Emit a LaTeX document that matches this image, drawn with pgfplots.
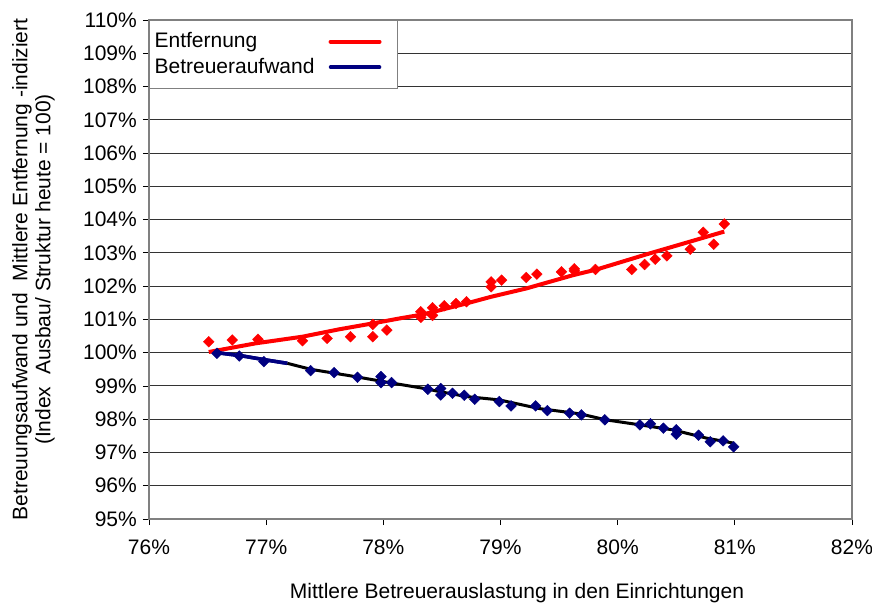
\documentclass[border=0pt]{standalone}
\usepackage{fontspec}
\setmainfont{Liberation Sans}
\usepackage{pgfplots}
\pgfplotsset{compat=1.18}
\definecolor{navyb}{RGB}{0,0,128}
\begin{document}
\fontsize{21}{25}\selectfont
\begin{tikzpicture}
\path[use as bounding box] (-149pt,-88pt) rectangle (723pt,519pt);
\begin{axis}[
  at={(0pt,0pt)}, anchor=south west,
  scale only axis, width=703pt, height=499pt,
  xmin=76, xmax=82, ymin=95, ymax=110,
  xtick={76,77,78,79,80,81,82},
  xticklabels={76\%,77\%,78\%,79\%,80\%,81\%,82\%},
  ytick={95,96,...,110},
  yticklabels={95\%,96\%,97\%,98\%,99\%,100\%,101\%,102\%,103\%,104\%,105\%,106\%,107\%,108\%,109\%,110\%},
  ymajorgrids, major grid style={black!80, line width=1pt},
  axis line style={gray, line width=1.2pt},
  tick align=outside, xtick pos=bottom, ytick pos=left,
  major tick length=6pt, tick style={black, line width=0.8pt},
  ticklabel style={font=\fontsize{21}{25}\selectfont},
  yticklabel style={xshift=1pt},
  xticklabel style={yshift=-8pt},
  /pgf/number format/assume math mode=true,
  legend plot pos=right,
  legend style={at={(0,1)}, anchor=north west, draw=gray, line width=1.2pt, fill=white,
    font=\fontsize{21}{25}\selectfont, inner xsep=3pt, inner ysep=10pt,
    legend cell align=left, row sep=3pt,
    /tikz/every odd column/.append style={column sep=12pt}},
  legend image code/.code={\draw[#1, line cap=round] (0pt,0pt) -- (49pt,0pt); \path (62pt,0pt);},
  clip=false,
]
% trend lines (legend entries)
\addplot[red, line width=4pt, no markers] coordinates {
(76.51,100.02) (76.91,100.28) (77.31,100.48) (77.62,100.70) (77.91,100.88)
(78.14,101.03) (78.34,101.15) (78.71,101.48) (78.92,101.68) (79.22,101.93)
(79.62,102.33) (79.82,102.50) (80.25,102.96) (80.62,103.34) (80.91,103.64)};
\addlegendentry{Entfernung}
\addplot[navyb, line width=3.5pt, no markers] coordinates {
(76.58,100.00) (76.80,99.90) (77.00,99.78) (77.18,99.68)};
\addlegendentry{Betreueraufwand}
% markers
\addplot[only marks, mark=square*, mark size=3.8pt, mark options={rotate=45, red, draw=red}, forget plot] coordinates {
(76.51,100.33) (76.71,100.38) (76.93,100.40) (77.31,100.36) (77.52,100.43)
(77.72,100.48) (77.91,100.85) (77.91,100.48) (78.03,100.68) (78.32,101.23)
(78.32,101.06) (78.42,101.35) (78.42,101.12) (78.52,101.41) (78.62,101.48)
(78.71,101.53) (78.92,102.13) (78.92,101.98) (79.01,102.18) (79.22,102.26)
(79.31,102.36) (79.52,102.43) (79.63,102.52) (79.63,102.46) (79.81,102.50)
(80.12,102.50) (80.23,102.65) (80.32,102.81) (80.42,102.91) (80.62,103.11)
(80.73,103.62) (80.82,103.26) (80.91,103.87)};
\addplot[only marks, mark=square*, mark size=3.8pt, mark options={rotate=45, navyb, draw=navyb}, forget plot] coordinates {
(76.58,99.98) (76.77,99.90) (76.98,99.73) (77.38,99.46) (77.58,99.40)
(77.78,99.26) (77.98,99.28) (77.98,99.10) (78.07,99.10) (78.38,98.90)
(78.49,98.92) (78.49,98.73) (78.59,98.78) (78.69,98.72) (78.78,98.60)
(78.99,98.53) (79.09,98.40) (79.30,98.40) (79.40,98.26) (79.59,98.18)
(79.69,98.13) (79.89,97.98) (80.19,97.83) (80.28,97.86) (80.39,97.73)
(80.50,97.68) (80.50,97.55) (80.69,97.52) (80.79,97.32) (80.90,97.35)
(80.99,97.17)};
\addplot[black, line width=3pt, no markers, forget plot] coordinates {
(77.18,99.68) (77.38,99.50) (77.76,99.28) (78.05,99.10) (78.34,98.93)
(78.48,98.83) (78.71,98.68) (78.99,98.58) (79.33,98.32) (79.68,98.16)
(79.90,97.98) (80.19,97.83) (80.47,97.68) (80.76,97.43) (80.99,97.28)};
\addplot[navyb, line width=3.5pt, no markers, forget plot] coordinates {
(76.58,100.00) (76.80,99.90) (77.00,99.78) (77.18,99.68)};
\end{axis}
\node[anchor=center] at (368pt,-74pt) {Mittlere Betreuerauslastung in den Einrichtungen};
\node[rotate=90, anchor=center] at (-127pt,249.5pt) {Betreuungsaufwand und\ \ Mittlere Entfernung -indiziert};
\node[rotate=90, anchor=center] at (-104pt,249.5pt) {(Index\ \ Ausbau/ Struktur heute = 100)};
\end{tikzpicture}
\end{document}
